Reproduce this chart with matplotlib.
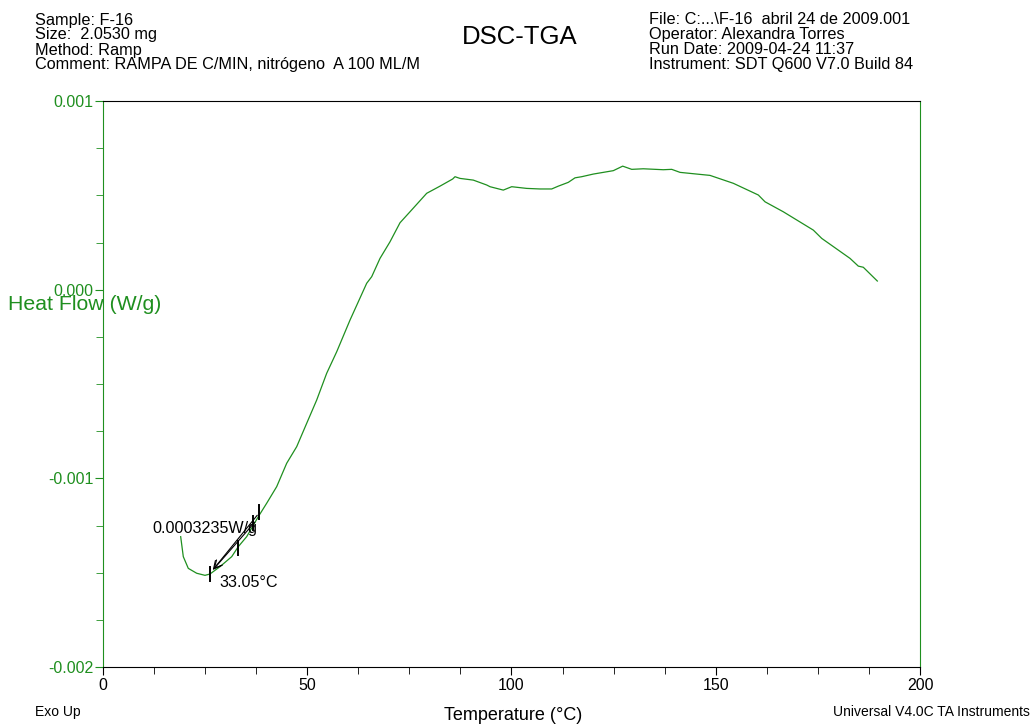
"""DSC heat flow curve with onset analysis, TA Universal Analysis style."""
import matplotlib.pyplot as plt
from matplotlib.ticker import FormatStrFormatter, MultipleLocator

plt.rcParams["font.family"] = ["Liberation Sans", "DejaVu Sans"]

GREEN = "#1f8f1f"

# temperature (°C) and heat flow (mW/g -> scaled to W/g below)
temp_c = [19.02, 19.66, 20.88, 22.94, 24.97, 26.19, 28.64, 31.51, 33.12, 35.18,
          38.02, 40.07, 42.52, 44.97, 47.42, 49.87, 52.31, 54.76, 57.21, 60.47,
          62.50, 64.55, 65.78, 67.81, 70.26, 72.71, 75.15, 79.24, 82.50, 85.61,
          86.17, 87.39, 90.65, 93.93, 94.74, 97.99, 100.05, 103.72, 106.98, 109.84,
          111.46, 113.90, 115.55, 117.19, 120.03, 124.92, 127.22, 129.43, 132.27, 137.16,
          139.22, 141.25, 145.34, 148.59, 154.30, 160.42, 162.06, 166.54, 173.88, 175.94,
          182.87, 184.90, 186.12, 189.55]
heat_flow_mw = [-1.309, -1.415, -1.477, -1.503, -1.514, -1.507, -1.468, -1.415, -1.362, -1.309,
                -1.203, -1.132, -1.044, -0.920, -0.832, -0.708, -0.585, -0.443, -0.329, -0.161,
                -0.064, 0.034, 0.069, 0.166, 0.254, 0.355, 0.413, 0.511, 0.549, 0.587,
                0.599, 0.590, 0.581, 0.555, 0.546, 0.528, 0.546, 0.537, 0.534, 0.534,
                0.549, 0.569, 0.593, 0.599, 0.613, 0.631, 0.655, 0.638, 0.641, 0.636,
                0.638, 0.622, 0.613, 0.606, 0.564, 0.502, 0.466, 0.413, 0.316, 0.272,
                0.166, 0.125, 0.119, 0.046]
heat_flow = [v * 1e-3 for v in heat_flow_mw]

# onset analysis: range cursors and the two tangent arrows
cursor_t = [26.2, 33.1, 36.65, 38.26]
cursor_hf = [-1.505e-3, -1.37e-3, -1.237e-3, -1.177e-3]
tangent_start = [(38.19, -1.184e-3), (37.63, -1.221e-3)]
tangent_end = [(26.44, -1.497e-3), (26.6, -1.493e-3)]
onset_temp_label = "33.05°C"
onset_hf_label = "0.0003235W/g"

header_left = ["Sample: F-16", "Size:  2.0530 mg", "Method: Ramp",
               "Comment: RAMPA DE C/MIN, nitrógeno  A 100 ML/M"]
header_right = ["File: C:...\\F-16  abril 24 de 2009.001", "Operator: Alexandra Torres",
                "Run Date: 2009-04-24 11:37", "Instrument: SDT Q600 V7.0 Build 84"]

fig = plt.figure(figsize=(10.35, 7.27), dpi=100)
ax = fig.add_axes([0.0995, 0.0825, 0.7894, 0.7785])

ax.plot(temp_c, heat_flow, color=GREEN, lw=0.9)

for t, hf in zip(cursor_t, cursor_hf):
    ax.plot([t, t], [hf - 0.037e-3, hf + 0.037e-3], color="black", lw=1.4)
for (x0, y0), (x1, y1) in zip(tangent_start, tangent_end):
    ax.annotate("", xy=(x1, y1), xytext=(x0, y0),
                arrowprops=dict(arrowstyle="->", color="black", lw=0.8, mutation_scale=14))
ax.text(37.8, -1.265e-3, onset_hf_label, ha="right", va="center", fontsize=11.6)
ax.text(28.5, -1.55e-3, onset_temp_label, ha="left", va="center", fontsize=11.6)

ax.set_xlim(0, 200)
ax.set_ylim(-0.002, 0.001)
ax.xaxis.set_major_locator(MultipleLocator(50))
ax.xaxis.set_minor_locator(MultipleLocator(12.5))
ax.yaxis.set_major_locator(MultipleLocator(0.001))
ax.yaxis.set_minor_locator(MultipleLocator(0.00025))
ax.yaxis.set_major_formatter(FormatStrFormatter("%.3f"))

ax.tick_params(axis="x", which="both", direction="out", colors="black", labelsize=11.5, pad=2)
ax.tick_params(axis="x", which="major", length=6)
ax.tick_params(axis="x", which="minor", length=5)
ax.tick_params(axis="y", which="both", direction="out", color=GREEN, labelcolor=GREEN,
               labelsize=11.5, pad=1)
ax.tick_params(axis="y", which="major", length=6)
ax.tick_params(axis="y", which="minor", length=5)

ax.spines["left"].set_color(GREEN)
ax.spines["right"].set_color(GREEN)
ax.spines["top"].set_color("black")
ax.spines["bottom"].set_color("black")
for s in ax.spines.values():
    s.set_linewidth(0.8)

fig.text(8 / 1035, 1 - 305 / 727, "Heat Flow (W/g)", color=GREEN, fontsize=15.3,
         ha="left", va="center")
fig.text(513 / 1035, 1 - 716 / 727, "Temperature (°C)", fontsize=13, ha="center", va="center")
fig.text(35 / 1035, 1 - 712 / 727, "Exo Up", fontsize=10, ha="left", va="center")
fig.text(1030 / 1035, 1 - 712 / 727, "Universal V4.0C TA Instruments", fontsize=10,
         ha="right", va="center")

fig.text(520 / 1035, 1 - 37 / 727, "DSC-TGA", fontsize=18.5, ha="center", va="center")
for i, line in enumerate(header_left):
    fig.text(35 / 1035, 1 - (20 + 15 * i) / 727, line, fontsize=11.7, ha="left", va="center")
for i, line in enumerate(header_right):
    fig.text(649 / 1035, 1 - (20 + 15 * i) / 727, line, fontsize=11.7, ha="left", va="center")

fig.savefig("out.png", dpi=100)
